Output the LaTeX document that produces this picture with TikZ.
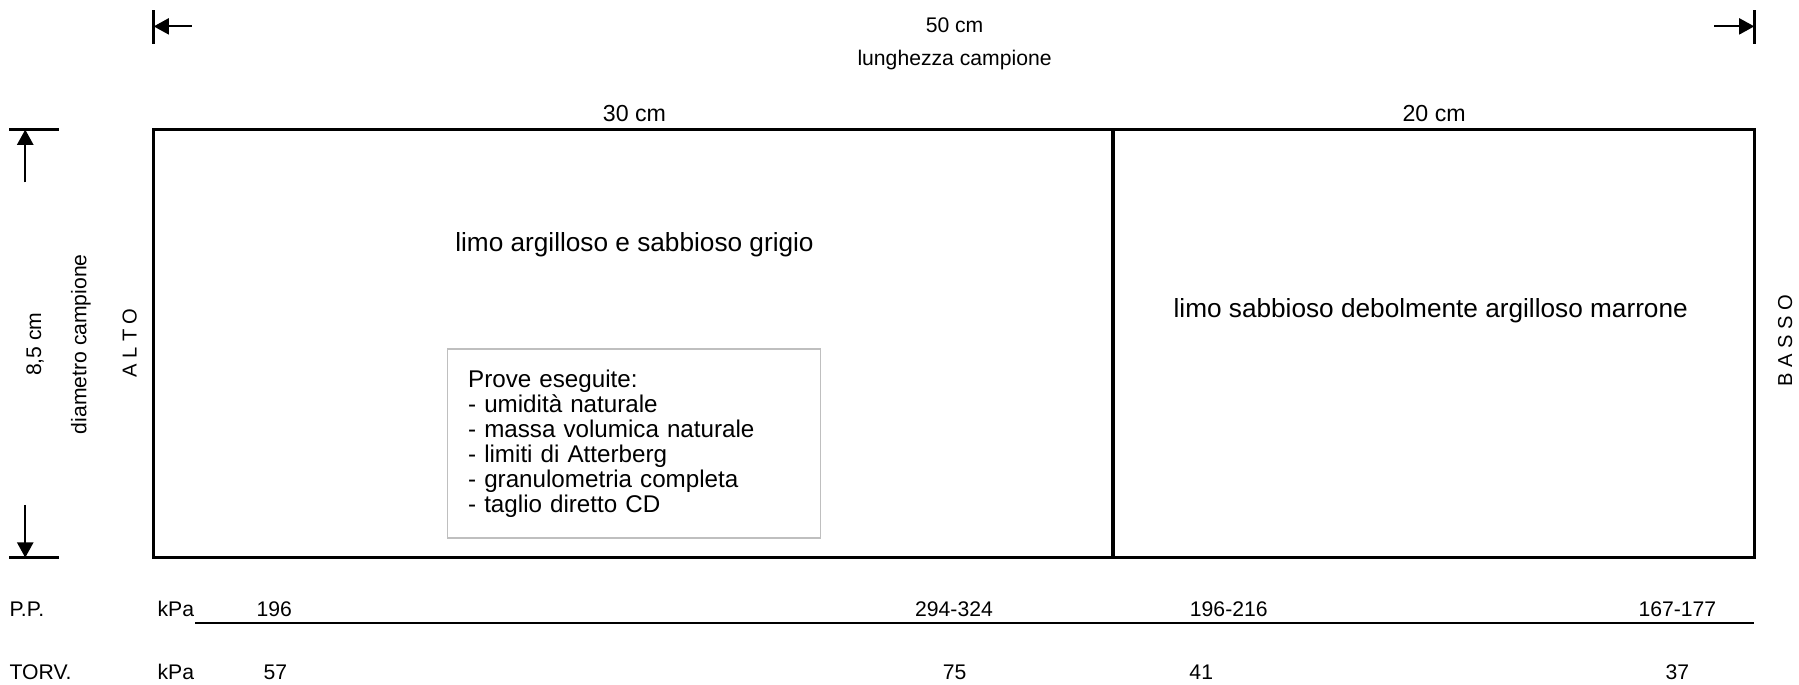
\documentclass[tikz,border=0pt]{standalone}
\usepackage{fontspec}
\setmainfont{Liberation Sans}
\usetikzlibrary{arrows.meta}

\begin{document}
\begin{tikzpicture}[x=0.02cm, y=-0.02cm,
	small/.style={font=\fontsize{10.5}{12.6}\selectfont, inner sep=0pt},
	side/.style={font=\fontsize{10}{12}\selectfont, inner sep=0pt, rotate=90},
	part/.style={font=\fontsize{11.5}{13.8}\selectfont, inner sep=0pt},
	layer/.style={font=\fontsize{13}{15.6}\selectfont, inner sep=0pt},
	tip/.style={-{Triangle[length=7.5pt,width=8pt]}, line width=0.9pt},
	endbar/.style={line width=1.6pt},
	sample/.style={line width=1.6pt},
	testbox/.style={draw=black!25, line width=0.8pt, align=left,
		minimum width=6.5cm, minimum height=3.3cm, text width=5.78cm,
		inner xsep=0.36cm, inner ysep=0pt, font=\fontsize{12}{12.4}\selectfont}]
	\useasboundingbox (0,0) rectangle (1568,597);
	% sample length
	\coordinate (l50) at (134,23);
	\coordinate (r50) at (1529,23);
	\coordinate (l50t) at (167,23);
	\coordinate (r50t) at (1494,23);
	\draw[endbar] (l50) ++(0,-14) -- ++(0,29);
	\draw[endbar] (r50) ++(0,-14) -- ++(0,29);
	\draw[tip] (l50t) -- (l50);
	\draw[tip] (r50t) -- (r50);
	\node[small] (len) at (832,22) {50 cm};
	\node[small] (lenlab) at (832,52) {lunghezza campione};
	% the core, two layers
	\coordinate (nw) at (134,113);
	\coordinate (se) at (1529,486);
	\coordinate (divtop) at (970,113);
	\coordinate (divbot) at (970,486);
	\draw[sample] (nw) rectangle (se);
	\draw[sample] (divtop) -- (divbot);
	\node[part] (p30) at (553,99) {30 cm};
	\node[part] (p20) at (1250,99) {20 cm};
	\node[layer] (upper) at (553,213) {limo argilloso e sabbioso grigio};
	\node[layer] (lower) at (1247,271) {limo sabbioso debolmente argilloso marrone};
	\node[testbox] (prove) at (552.5,386.5) {Prove eseguite:\\
		- umidità naturale\\
		- massa volumica naturale\\
		- limiti di Atterberg\\
		- granulometria completa\\
		- taglio diretto CD};
	% diameter
	\coordinate (dtop) at (22,113);
	\coordinate (dbot) at (22,486);
	\coordinate (dtopt) at (22,159);
	\coordinate (dbott) at (22,440);
	\draw[endbar] (dtop) ++(-14,0) -- ++(43,0);
	\draw[endbar] (dbot) ++(-14,0) -- ++(43,0);
	\draw[tip] (dtopt) -- (dtop);
	\draw[tip] (dbott) -- (dbot);
	\node[small, rotate=90] (d85) at (30.5,300) {8,5 cm};
	\node[small, rotate=90] (diam) at (70.5,300) {diametro campione};
	\node[side] (alto) at (113,299) {A L T O};
	\node[side] (basso) at (1556,297) {B A S S O};
	% pocket penetrometer and torvane
	\node[small, anchor=base west] (pp) at (8,537) {P.P.};
	\node[small, anchor=base west] (ppu) at (137,537) {kPa};
	\foreach \x/\v [count=\i] in {239/196, 831.5/294-324, 1071/196-216, 1462/167-177}
		{ \node[small, anchor=base] (pp\i) at (\x,537) {\v}; }
	\coordinate (ppl) at (170,543);
	\coordinate (ppr) at (1529,543);
	\draw[line width=0.6pt] (ppl) -- (ppr);
	\node[small, anchor=base west] (tv) at (8,592) {TORV.};
	\node[small, anchor=base west] (tvu) at (137,592) {kPa};
	\foreach \x/\v [count=\i] in {240/57, 832/75, 1047/41, 1462/37}
		{ \node[small, anchor=base] (tv\i) at (\x,592) {\v}; }
\end{tikzpicture}
\end{document}
